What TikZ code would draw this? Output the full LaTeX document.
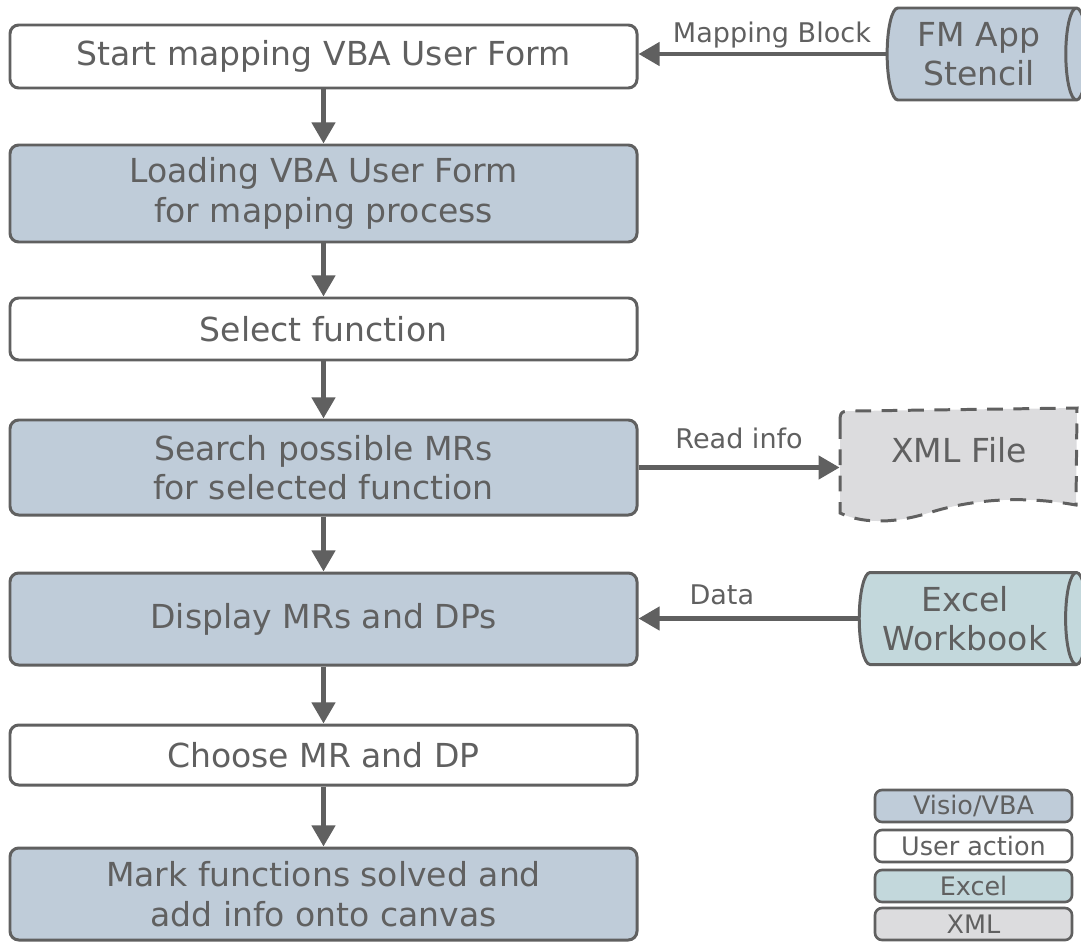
\documentclass[tikz,border=0pt]{standalone}
\usepackage{fontspec}
\setmainfont{DejaVu Sans}
\usetikzlibrary{shapes,arrows.meta,positioning,calc}
\definecolor{FlowGray}{HTML}{606060}
\definecolor{VisioBlue}{HTML}{BFCCD9}
\definecolor{ExcelTeal}{HTML}{C3D8DC}
\definecolor{XmlGray}{HTML}{DCDCDE}

\begin{document}
\begin{tikzpicture}[
    font=\fontsize{18.8}{22.5}\selectfont,
    text=FlowGray,
    stepbox/.style={draw=FlowGray, rounded corners=5pt, fill=#1, line width=1.7pt, minimum width=12.54cm, align=center, inner sep=2pt},
    store/.style={cylinder, draw=FlowGray, fill=#1, line width=1.7pt, shape aspect=0.3, minimum width=1.84cm, align=center, inner sep=2pt},
    legendbox/.style={draw=FlowGray, rounded corners=4pt, fill=#1, line width=1.5pt, minimum width=3.94cm, minimum height=0.64cm, inner sep=0pt, font=\fontsize{14.5}{16}\selectfont},
    flow/.style={draw=FlowGray, line width=2.8pt, -{Triangle[length=12pt,width=13pt]}},
    edgelabel/.style={font=\fontsize{15.4}{18}\selectfont, text=FlowGray}
]

  % Moldura da figura
  \useasboundingbox (0,0) rectangle (21.62,-18.82);

  % =========================================================================
  % FLUXO PRINCIPAL
  % =========================================================================
  \node[stepbox=white, minimum height=1.26cm] (b1) at (6.47, -1.13) {Start mapping VBA User Form};
  \node[stepbox=VisioBlue, minimum height=1.94cm] (b2) at (6.47, -3.87) {Loading VBA User Form\\for mapping process};
  \node[stepbox=white, minimum height=1.24cm] (b3) at (6.47, -6.58) {Select function};
  \node[stepbox=VisioBlue, minimum height=1.90cm] (b4) at (6.47, -9.35) {Search possible MRs\\for selected function};
  \node[stepbox=VisioBlue, minimum height=1.84cm] (b5) at (6.47, -12.38) {Display MRs and DPs};
  \node[stepbox=white, minimum height=1.20cm] (b6) at (6.47, -15.10) {Choose MR and DP};
  \node[stepbox=VisioBlue, minimum height=1.84cm] (b7) at (6.47, -17.88) {Mark functions solved and\\add info onto canvas};

  \draw[flow] (b1) -- (b2);
  \draw[flow] (b2) -- (b3);
  \draw[flow] (b3) -- (b4);
  \draw[flow] (b4) -- (b5);
  \draw[flow] (b5) -- (b6);
  \draw[flow] (b6) -- (b7);

  % =========================================================================
  % FONTES DE DADOS
  % =========================================================================
  \node[store=VisioBlue, minimum height=4.0cm] (stencil) at (19.58, -1.08) {FM App\\Stencil};

  \draw[dashed, dash pattern=on 9pt off 6pt, draw=FlowGray, fill=XmlGray, line width=1.7pt]
    (16.8,-8.5) .. controls (16.8,-8.22) .. (17.1,-8.22) -- (21.54,-8.16) -- (21.52,-10.1)
    .. controls (20.4,-9.9) and (19.4,-10.0) .. (18.6,-10.25)
    .. controls (17.8,-10.5) and (17.2,-10.45) .. (16.8,-10.26) -- cycle;
  \node[minimum width=4.76cm, inner sep=0pt] (xmlf) at (19.18, -9.0) {XML File};

  \node[store=ExcelTeal, minimum height=4.56cm] (excel) at (19.3, -12.37) {Excel\\Workbook};

  \draw[flow] (stencil.west) -- (stencil.west -| b1.east) node[edgelabel, pos=0.46, above=-1.5pt] {Mapping Block};
  \draw[flow] (b4.east) -- (b4.east -| xmlf.west) node[edgelabel, midway, above=6pt] {Read info};
  \draw[flow] (excel.west) -- (excel.west -| b5.east) node[edgelabel, pos=0.62, above=3pt] {Data};

  % =========================================================================
  % LEGENDA
  % =========================================================================
  \node[legendbox=VisioBlue] (lg_visio) at (19.47, -16.12) {Visio/VBA};
  \node[legendbox=white] (lg_user) at (19.47, -16.92) {User action};
  \node[legendbox=ExcelTeal] (lg_excel) at (19.47, -17.72) {Excel};
  \node[legendbox=XmlGray] (lg_xml) at (19.47, -18.48) {XML};

\end{tikzpicture}
\end{document}
